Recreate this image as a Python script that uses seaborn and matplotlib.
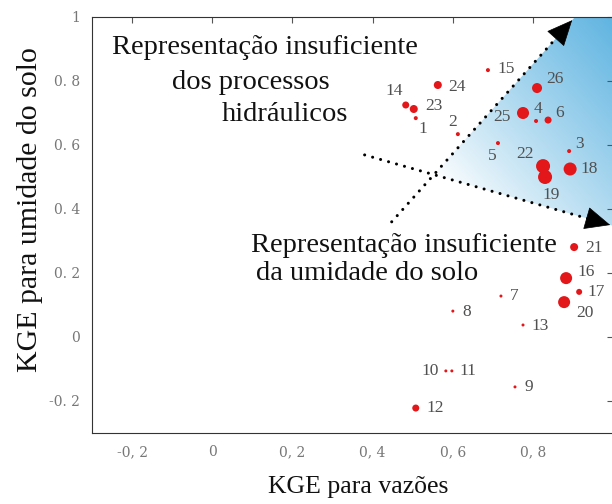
import numpy as np
import pandas as pd
import matplotlib
matplotlib.use("Agg")
import matplotlib.pyplot as plt
import seaborn as sns
from matplotlib.patches import Polygon

# ---------------- data ----------------
ids = [str(i) for i in range(1, 27)]
kge_vazao = [0.5075, 0.6125, 0.89, 0.8075, 0.7125, 0.8375, 0.72, 0.60, 0.755, 0.5825,
             0.5975, 0.5075, 0.775, 0.4825, 0.6875, 0.8825, 0.915, 0.8925, 0.83, 0.8775,
             0.9025, 0.825, 0.5025, 0.5625, 0.775, 0.81]
kge_solo = [0.684, 0.634, 0.581, 0.675, 0.606, 0.678, 0.128, 0.081, -0.156, -0.106,
            -0.106, -0.222, 0.0375, 0.725, 0.834, 0.184, 0.141, 0.525, 0.50, 0.109,
            0.281, 0.534, 0.7125, 0.7875, 0.70, 0.778]
peso = [16, 16, 16, 16, 16, 49, 9, 9, 9, 9,
        9, 49, 9, 49, 16, 144, 36, 169, 196, 144,
        64, 196, 64, 64, 144, 100]

xticks = [-0.2, 0.0, 0.2, 0.4, 0.6, 0.8]
xticklabels = ["-0, 2", "0", "0, 2", "0, 4", "0, 6", "0, 8"]
yticks = [-0.2, 0.0, 0.2, 0.4, 0.6, 0.8, 1.0]
yticklabels = ["-0. 2", "0", "0. 2", "0. 4", "0. 6", "0. 8", "1"]

df = pd.DataFrame({"id": ids, "x": kge_vazao, "y": kge_solo, "peso": peso})

# label offsets (pixels)
offsets = {
    "1": (7, -11), "2": (-5, 12), "3": (10, 7), "4": (2, 12), "5": (-6, -13),
    "6": (11, 7), "7": (13, 0), "8": (14, -1), "9": (14, 0), "10": (-16, 0),
    "11": (16, 0), "12": (19, 0), "13": (17, -1), "14": (-12, 14), "15": (18, 1),
    "16": (20, 6), "17": (17, 0), "18": (19, 0), "19": (6, -18), "20": (21, -11),
    "21": (20, -1), "22": (-18, 12), "23": (20, 3), "24": (19, -2), "25": (-21, -4),
    "26": (18, 9),
}

# ---------------- figure ----------------
sns.set_theme(style="white")
plt.rcParams["font.family"] = ["Liberation Serif", "DejaVu Serif"]

fig = plt.figure(figsize=(6.12, 5.04), dpi=100)
ax = fig.add_axes([92 / 612, 1 - 433 / 504, (612 - 92) / 612 + 0.002, (433 - 17) / 504])
ax.set_xlim(-0.3, 1.0)
ax.set_ylim(-0.3, 1.0)

# gradient region between the two arrows
l1a, l1b = (0.4475, 0.36), (0.8975, 0.99)
l2a, l2b = (0.38, 0.569), (0.9925, 0.35)
s1 = (l1b[1] - l1a[1]) / (l1b[0] - l1a[0])
s2 = (l2b[1] - l2a[1]) / (l2b[0] - l2a[0])
px = (l2a[1] - l1a[1] + s1 * l1a[0] - s2 * l2a[0]) / (s1 - s2)
py = l1a[1] + s1 * (px - l1a[0])
xtop = l1a[0] + (1.0 - l1a[1]) / s1
yright = l2a[1] + s2 * (1.0 - l2a[0])
poly = Polygon([(px, py), (xtop, 1.0), (1.0, 1.0), (1.0, yright)], closed=True,
               transform=ax.transData, facecolor="none", edgecolor="none")
ax.add_patch(poly)
gx = np.linspace(-0.3, 1.0, 400)
gy = np.linspace(-0.3, 1.0, 400)
GX, GY = np.meshgrid(gx, gy)
dx = (GX - px) * 400
dy = (GY - py) * 320
ux, uy = 0.75, 0.66
t = (dx * ux + dy * uy) / 239.0
t = np.clip(t, 0, 1) ** 0.9
blue = np.array([95, 180, 225]) / 255.0
img = np.ones(GX.shape + (3,))
for c in range(3):
    img[..., c] = 1 - t * (1 - blue[c])
im = ax.imshow(img, extent=(-0.3, 1.0, -0.3, 1.0), origin="lower",
               aspect="auto", zorder=0, interpolation="bilinear")
im.set_clip_path(poly)

# dotted arrows
for a, b in [(l1a, l1b), (l2a, l2b)]:
    ax.plot([a[0], b[0]], [a[1], b[1]], color="black", lw=2.2,
            linestyle=(0, (0.01, 2.7)), dash_capstyle="round", zorder=2)
    d = np.array(b) - np.array(a)
    start = np.array(b) - d * 0.07
    ax.annotate("", xy=b, xytext=tuple(start),
                arrowprops=dict(arrowstyle="-|>,head_length=1.0,head_width=0.45",
                                color="black", lw=0.5, mutation_scale=17,
                                shrinkA=0, shrinkB=0), zorder=3)

# scatter points
sns.scatterplot(data=df, x="x", y="y", size="peso", sizes=(0, 102), size_norm=(0, 196),
                color="#e3171a", linewidth=0, legend=False, ax=ax, zorder=4)

for i, xx, yy in zip(ids, kge_vazao, kge_solo):
    ox, oy = offsets[i]
    ax.annotate(i, (xx, yy), xytext=(ox, oy), textcoords="offset pixels",
                ha="center", va="center", fontsize=12.5, color="#505050", zorder=5)

# annotation texts
tkw = dict(fontsize=20.5, color="#111111", ha="left", va="center", zorder=6)
ax.text(-0.25, 0.906, "Representação insuficiente", **tkw)
ax.text(-0.10, 0.794, "dos processos", **tkw)
ax.text(0.0225, 0.694, "hidráulicos", **tkw)
ax.text(0.0975, 0.2875, "Representação insuficiente", **tkw)
ax.text(0.11, 0.20, "da umidade do solo", **tkw)

# axes styling
ax.set_xticks(xticks)
ax.set_xticklabels(xticklabels, family="DejaVu Serif")
ax.set_yticks(yticks)
ax.set_yticklabels(yticklabels, family="DejaVu Serif")
ax.tick_params(axis="both", direction="in", length=4, width=0.8, color="#555555",
               labelsize=10, labelcolor="#777777", top=True, right=True)
ax.tick_params(axis="x", pad=9)
ax.tick_params(axis="y", pad=8.5)
for sp in ax.spines.values():
    sp.set_color("#333333")
    sp.set_linewidth(0.8)

ax.set_xlabel("KGE para vazões", fontsize=18.5, color="#111111")
ax.xaxis.set_label_coords((358 - 92) / 520, -(487 - 433) / 416)
ax.xaxis.label.set_va("center")
ax.set_ylabel("KGE para umidade do solo", fontsize=21.5, color="#111111")
ax.yaxis.set_label_coords(-(92 - 30) / 520, (433 - 210) / 416)
ax.yaxis.label.set_va("center")

fig.savefig("out.png", dpi=100)
